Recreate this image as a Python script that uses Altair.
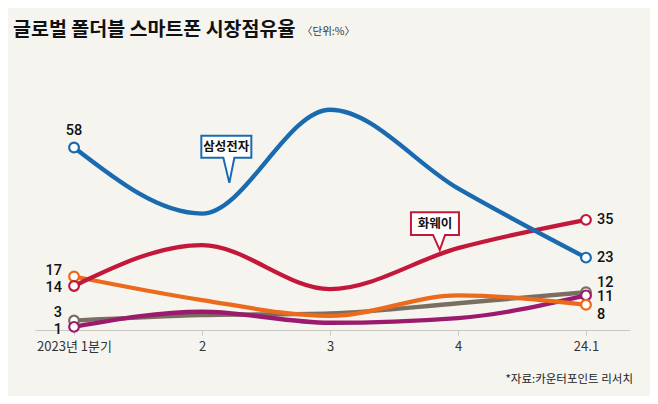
import json
import altair as alt
import pandas as pd

# ---- data ----
QUARTERS = ["2023년 1분기", "2", "3", "4", "24.1"]
SERIES = ["삼성전자", "화웨이", "오포", "아너", "모토로라"]
SAMSUNG = [58, 37, 70, 45, 23]
HUAWEI = [14, 27, 13, 26, 35]
ORANGE = [17, 9.5, 4.5, 11, 8]
GRAY = [3, 4.7, 5.3, 8.5, 12]
PURPLE = [1, 5.8, 2.3, 3.8, 11]
VALUES = [SAMSUNG, HUAWEI, ORANGE, GRAY, PURPLE]
COLORS = ["#1a6aaf", "#c3183a", "#ec6a1c", "#7a6e62", "#9c1a6e"]

# callout anchors (data units)
CALLOUTS = [("삼성전자", 1.19, 58.2), ("화웨이", 2.82, 33.8)]

rows = []
for name, vals in zip(SERIES, VALUES):
    for i, v in enumerate(vals):
        rows.append({"series": name, "idx": i, "value": v})
df = pd.DataFrame(rows)

W, H = 595, 236
FONT = "Noto Sans CJK KR"
NUMFONT = "Liberation Sans Narrow, Roboto, Noto Sans"

label_expr = json.dumps(QUARTERS, ensure_ascii=False) + "[datum.value]"

xscale = alt.Scale(domain=[-0.305, 4.344], nice=False, zero=False)
yscale = alt.Scale(domain=[0, 75], nice=False)

base = alt.Chart(df)

xax = alt.Axis(
    values=[0, 1, 2, 3, 4], labelExpr=label_expr, title=None, grid=False,
    domainColor="#c9c9c4", domainWidth=1.2, tickColor="#c9c9c4", tickSize=5,
    labelFont=FONT, labelFontSize=13, labelColor="#333333", labelPadding=5,
)

layers = []
# axis-only layer
layers.append(
    base.mark_line(opacity=0).encode(
        x=alt.X("idx:Q", scale=xscale, axis=xax),
        y=alt.Y("value:Q", scale=yscale, axis=None),
        detail="series:N",
    )
)

order = [3, 4, 2, 1, 0]
for k in order:
    name, col = SERIES[k], COLORS[k]
    sub = base.transform_filter(alt.datum.series == name)
    layers.append(
        sub.mark_line(interpolate="monotone", strokeWidth=4.3, color=col, strokeCap="round").encode(
            x=alt.X("idx:Q", scale=xscale), y=alt.Y("value:Q", scale=yscale)
        )
    )
for k in order:
    name, col = SERIES[k], COLORS[k]
    sub = base.transform_filter((alt.datum.series == name) & ((alt.datum.idx == 0) | (alt.datum.idx == 4)))
    layers.append(
        sub.mark_point(shape="circle", size=95, filled=True, fill="white", stroke=col, strokeWidth=2.2, opacity=1).encode(
            x=alt.X("idx:Q", scale=xscale), y=alt.Y("value:Q", scale=yscale)
        )
    )

# value labels: (series index, quarter index, dx, dy, align)
LABEL_NUDGE = [
    (0, 0, 0, -16, "center"),
    (2, 0, -12, -6, "right"),
    (1, 0, -12, 2, "right"),
    (3, 0, -12, -8, "right"),
    (4, 0, -12, 3, "right"),
    (1, 4, 11, 0, "left"),
    (0, 4, 11, 0, "left"),
    (3, 4, 11, -9, "left"),
    (4, 4, 11, 2, "left"),
    (2, 4, 11, 10, "left"),
]
for s, q, dx, dy, al in LABEL_NUDGE:
    sub = base.transform_filter((alt.datum.series == SERIES[s]) & (alt.datum.idx == q))
    layers.append(
        sub.mark_text(font=NUMFONT, fontSize=14.5, fontWeight=500, color="#111111", dx=dx, dy=dy, align=al, baseline="middle").encode(
            x=alt.X("idx:Q", scale=xscale), y=alt.Y("value:Q", scale=yscale), text=alt.Text("value:Q", format="d")
        )
    )

# callouts
PATH_SAMSUNG = "M -1 -0.44 L 1 -0.44 L 1 0.44 L 0.32 0.44 L 0.12 1.44 L -0.12 0.44 L -1 0.44 Z"
PATH_HUAWEI = "M -1 -0.47 L 1 -0.47 L 1 0.47 L 0.42 0.47 L 0.2 1.1 L -0.08 0.47 L -1 0.47 Z"
cdf = pd.DataFrame([{"label": l, "cx": x, "cy": y} for l, x, y in CALLOUTS])
for (lab, _, _), path, col, sz in zip(CALLOUTS, [PATH_SAMSUNG, PATH_HUAWEI], [COLORS[0], COLORS[1]], [2500, 2304]):
    sub = alt.Chart(cdf).transform_filter(alt.datum.label == lab)
    layers.append(
        sub.mark_point(shape=path, size=sz, filled=True, fill="white", stroke=col, strokeWidth=2, opacity=1, strokeJoin="miter").encode(
            x=alt.X("cx:Q", scale=xscale), y=alt.Y("cy:Q", scale=yscale)
        )
    )
    layers.append(
        sub.mark_text(font=FONT, fontSize=12.5, fontWeight="bold", color="#111111", baseline="middle", dy=0).encode(
            x=alt.X("cx:Q", scale=xscale), y=alt.Y("cy:Q", scale=yscale), text="label:N"
        )
    )

# titles
TITLE = "글로벌 폴더블 스마트폰 시장점유율"
UNIT = "〈단위:%〉"
SOURCE = "*자료:카운터포인트 리서치"
tdf = pd.DataFrame({"t": [TITLE]})
layers.append(
    alt.Chart(tdf).mark_text(font=FONT, fontSize=19.5, fontWeight="bold", color="#111111", align="left", baseline="middle").encode(
        x=alt.value(-22), y=alt.value(-64), text="t:N"
    )
)
layers.append(
    alt.Chart(pd.DataFrame({"t": [UNIT]})).mark_text(font=FONT, fontSize=10.5, color="#333333", align="left", baseline="middle").encode(
        x=alt.value(267), y=alt.value(-62), text="t:N"
    )
)
layers.append(
    alt.Chart(pd.DataFrame({"t": [SOURCE]})).mark_text(font=FONT, fontSize=11.5, color="#222222", align="right", baseline="middle").encode(
        x=alt.value(598), y=alt.value(286), text="t:N"
    )
)

chart = alt.layer(*layers).properties(
    width=W, height=H, autosize="none",
    padding={"left": 27, "top": 86, "right": 20, "bottom": 66},
    background="#f5f4ef",
).configure_view(stroke=None)

chart.save("out.html", embed_options={"renderer": "svg", "actions": False})
